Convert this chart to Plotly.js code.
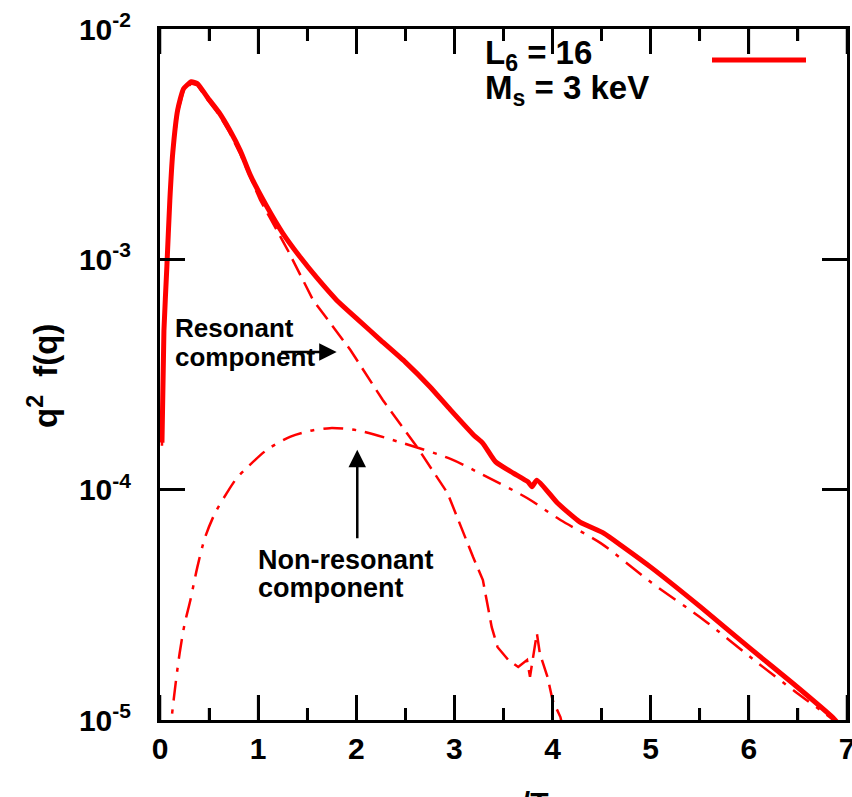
<!DOCTYPE html>
<html>
<head>
<meta charset="utf-8">
<script src="https://cdn.plot.ly/plotly-3.0.1.min.js"></script>
<style>
html,body{margin:0;padding:0;background:#fff;}
#chart{width:852px;height:797px;}
</style>
</head>
<body>
<div id="chart"></div>
<script>
// total q^2 f(q)
var totalQ = [0.02, 0.04, 0.07, 0.10, 0.13, 0.18, 0.24, 0.32, 0.38, 0.48, 0.60, 0.71, 0.82, 0.92, 1.09, 1.25, 1.43, 1.60, 1.80, 2.00, 2.25, 2.50, 2.75, 2.96, 3.20, 3.29, 3.42, 3.60, 3.75, 3.79, 3.84, 4.05, 4.28, 4.52, 4.72, 5.00, 5.51, 6.01, 6.45, 6.86, 6.95];
var totalF = [1.6e-4, 4.9e-4, 9.3e-4, 1.8e-3, 2.9e-3, 4.45e-3, 5.5e-3, 5.9e-3, 5.8e-3, 5.07e-3, 4.35e-3, 3.64e-3, 2.95e-3, 2.32e-3, 1.69e-3, 1.30e-3, 1.02e-3, 8.3e-4, 6.65e-4, 5.56e-4, 4.45e-4, 3.58e-4, 2.8e-4, 2.22e-4, 1.72e-4, 1.59e-4, 1.32e-4, 1.18e-4, 1.08e-4, 1.03e-4, 1.10e-4, 8.75e-5, 7.23e-5, 6.48e-5, 5.64e-5, 4.61e-5, 3.09e-5, 2.05e-5, 1.44e-5, 1.02e-5, 9.2e-6];

// resonant component
var resQ = [0.02, 0.04, 0.07, 0.10, 0.13, 0.18, 0.24, 0.32, 0.38, 0.48, 0.60, 0.71, 0.82, 0.92, 1.02, 1.30, 1.56, 1.94, 2.27, 2.62, 2.93, 3.19, 3.29, 3.38, 3.44, 3.55, 3.65, 3.74, 3.77, 3.84, 3.87, 3.95, 4.00, 4.08, 4.14];
var resF = [1.55e-4, 4.8e-4, 9.1e-4, 1.76e-3, 2.85e-3, 4.35e-3, 5.4e-3, 5.8e-3, 5.7e-3, 4.95e-3, 4.25e-3, 3.55e-3, 2.85e-3, 2.25e-3, 1.81e-3, 1.1e-3, 6.65e-4, 4.04e-4, 2.45e-4, 1.53e-4, 9.66e-5, 5.1e-5, 4.05e-5, 2.53e-5, 2.07e-5, 1.82e-5, 1.70e-5, 1.82e-5, 1.54e-5, 2.38e-5, 1.95e-5, 1.53e-5, 1.22e-5, 1.03e-5, 8.0e-6];

// non-resonant component
var nonQ = [0.10, 0.12, 0.16, 0.20, 0.25, 0.31, 0.38, 0.46, 0.56, 0.68, 0.78, 0.89, 1.09, 1.33, 1.53, 1.73, 2.01, 2.48, 2.96, 3.29, 3.74, 4.08, 4.49, 5.00, 5.54, 6.09, 6.49, 6.86, 6.95];
var nonF = [8.0e-6, 1.03e-5, 1.45e-5, 1.95e-5, 2.6e-5, 3.32e-5, 4.6e-5, 6.22e-5, 7.9e-5, 9.66e-5, 1.12e-4, 1.25e-4, 1.49e-4, 1.70e-4, 1.80e-4, 1.85e-4, 1.81e-4, 1.59e-4, 1.36e-4, 1.16e-4, 9.2e-5, 7.38e-5, 5.86e-5, 3.97e-5, 2.72e-5, 1.77e-5, 1.31e-5, 1.0e-5, 9.2e-6];

var yTickVals = [1e-5, 1e-4, 1e-3, 1e-2];
var yTickText = ['10<sup>-5</sup>', '10<sup>-4</sup>', '10<sup>-3</sup>', '10<sup>-2</sup>'];
var xTickVals = [0, 1, 2, 3, 4, 5, 6, 7];
var xMinorVals = [0.5, 1.5, 2.5, 3.5, 4.5, 5.5, 6.5];
var yMinorVals = [];
[1e-5, 1e-4, 1e-3].forEach(function (d) { for (var k = 2; k <= 9; k++) yMinorVals.push(k * d); });

var RED = '#ff0000';
var FONT = 'Liberation Sans, Arial, sans-serif';

// plot area in pixels (tick lengths are given in px)
var PW = 852 - 160 - 5, PH = 797 - 29 - 77;
var MAJ = 25, MIN = 12, TW = 2.5;

var tickShapes = [];
function xTick(v, len) {
  tickShapes.push({type: 'line', xref: 'x', yref: 'paper', x0: v, x1: v, y0: 0, y1: len / PH, line: {color: '#000', width: TW}});
  tickShapes.push({type: 'line', xref: 'x', yref: 'paper', x0: v, x1: v, y0: 1, y1: 1 - len / PH, line: {color: '#000', width: TW}});
}
function yTick(v, len) {
  var lv = Math.log10(v);
  tickShapes.push({type: 'line', xref: 'paper', yref: 'y', x0: 0, x1: len / PW, y0: lv, y1: lv, line: {color: '#000', width: TW}});
  tickShapes.push({type: 'line', xref: 'paper', yref: 'y', x0: 1, x1: 1 - len / PW, y0: lv, y1: lv, line: {color: '#000', width: TW}});
}
xTickVals.forEach(function (v) { xTick(v, MAJ); });
xMinorVals.forEach(function (v) { xTick(v, MIN); });
yTickVals.forEach(function (v) { yTick(v, MAJ); });
yMinorVals.forEach(function (v) { yTick(v, MIN); });

var traces = [
  {x: totalQ, y: totalF, type: 'scatter', mode: 'lines', name: 'total',
   line: {color: RED, width: 5, shape: 'spline', smoothing: 0.5}, showlegend: false},
  {x: resQ, y: resF, type: 'scatter', mode: 'lines', name: 'Resonant component',
   line: {color: RED, width: 2.5, dash: '18px,8px'}, showlegend: false},
  {x: nonQ, y: nonF, type: 'scatter', mode: 'lines', name: 'Non-resonant component',
   line: {color: RED, width: 2.5, dash: '20px,9px,4px,9px', shape: 'spline', smoothing: 0.8}, showlegend: false}
];

var layout = {
  width: 852, height: 797,
  margin: {l: 160, r: 5, t: 29, b: 77},
  paper_bgcolor: '#fff', plot_bgcolor: '#fff',
  showlegend: false,
  font: {family: FONT, color: '#000'},
  xaxis: {
    range: [0, 7], tickvals: xTickVals, ticktext: xTickVals.map(String),
    ticks: 'inside', ticklen: MAJ, tickwidth: TW, tickcolor: '#000',
    minor: {ticks: 'inside', ticklen: MIN, dtick: 0.5},
    showline: true, linewidth: 3, linecolor: '#000', mirror: 'ticks',
    showgrid: false, zeroline: false,
    tickfont: {family: FONT, size: 30, weight: 'bold', color: '#000'},
    ticklabeloverflow: 'allow'
  },
  yaxis: {
    type: 'log', range: [-5, -2], tickvals: yTickVals, ticktext: yTickText,
    ticks: 'inside', ticklen: MAJ, tickwidth: TW, tickcolor: '#000',
    showline: true, linewidth: 3, linecolor: '#000', mirror: 'ticks',
    showgrid: false, zeroline: false,
    tickfont: {family: FONT, size: 30, weight: 'bold', color: '#000'},
    ticklabelstandoff: 20
  },
  shapes: tickShapes.concat([
    {type: 'line', xref: 'paper', yref: 'paper', x0: (712 - 160) / PW, x1: (806 - 160) / PW,
     y0: (720 - 60) / PH, y1: (720 - 60) / PH, line: {color: RED, width: 5}}
  ]),
  annotations: [
    {xref: 'paper', yref: 'paper', x: (500 - 160) / PW, y: (720 - 803) / PH, xanchor: 'center', yanchor: 'middle',
     text: 'q = p/T', showarrow: false, font: {family: FONT, size: 30, weight: 'bold', color: '#000'}},
    {xref: 'paper', yref: 'paper', x: (43 - 160) / PW, y: (720 - 376) / PH, xanchor: 'center', yanchor: 'middle',
     textangle: -90, text: 'q<sup>2</sup>  f(q)', showarrow: false, font: {family: FONT, size: 33, weight: 'bold', color: '#000'}},
    {xref: 'paper', yref: 'paper', x: (483 - 160) / PW, y: (720 - 55) / PH, xanchor: 'left', yanchor: 'middle',
     text: 'L<sub>6</sub> = 16', showarrow: false, font: {family: FONT, size: 33, weight: 'bold', color: '#000'}},
    {xref: 'paper', yref: 'paper', x: (483 - 160) / PW, y: (720 - 90) / PH, xanchor: 'left', yanchor: 'middle',
     text: 'M<sub>s</sub> = 3 keV', showarrow: false, font: {family: FONT, size: 33, weight: 'bold', color: '#000'}},
    {xref: 'paper', yref: 'paper', x: (173 - 160) / PW, y: (720 - 328) / PH, xanchor: 'left', yanchor: 'middle',
     text: 'Resonant', showarrow: false, font: {family: FONT, size: 26, weight: 'bold', color: '#000'}},
    {xref: 'paper', yref: 'paper', x: (173 - 160) / PW, y: (720 - 357) / PH, xanchor: 'left', yanchor: 'middle',
     text: 'component', showarrow: false, font: {family: FONT, size: 26, weight: 'bold', color: '#000'}},
    {xref: 'paper', yref: 'paper', x: (256 - 160) / PW, y: (720 - 560) / PH, xanchor: 'left', yanchor: 'middle',
     text: 'Non-resonant', showarrow: false, font: {family: FONT, size: 27, weight: 'bold', color: '#000'}},
    {xref: 'paper', yref: 'paper', x: (256 - 160) / PW, y: (720 - 588) / PH, xanchor: 'left', yanchor: 'middle',
     text: 'component', showarrow: false, font: {family: FONT, size: 27, weight: 'bold', color: '#000'}},
    {x: 1.80, y: Math.log10(3.96e-4), xref: 'x', yref: 'y', text: '', showarrow: true,
     ax: -57, ay: 0, arrowhead: 2, arrowsize: 1.4, arrowwidth: 2.5, arrowcolor: '#000'},
    {x: 2.01, y: Math.log10(1.49e-4), xref: 'x', yref: 'y', text: '', showarrow: true,
     ax: 0, ay: 90, arrowhead: 2, arrowsize: 1.4, arrowwidth: 2.5, arrowcolor: '#000'}
  ]
};

var config = {displayModeBar: false};
var gd = document.getElementById('chart');
Plotly.newPlot(gd, traces, layout, config).then(function () {
  // redraw once everything (fonts, layout) has settled
  setTimeout(function () { Plotly.newPlot(gd, traces, layout, config); }, 1000);
});
</script>
</body>
</html>
